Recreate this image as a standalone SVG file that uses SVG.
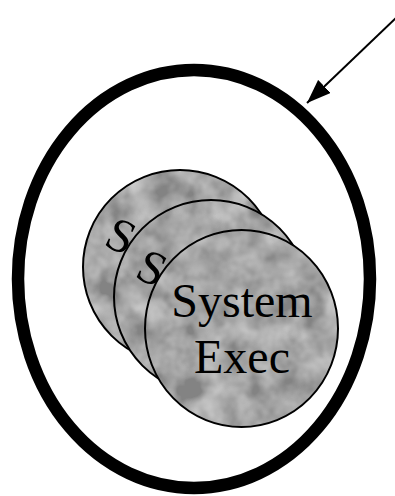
<svg xmlns="http://www.w3.org/2000/svg" width="395" height="496" viewBox="0 0 395 496">
  <style>
    .disk { stroke: #000; stroke-width: 2; fill: none; }
    .shade { fill: #838383; }
    .lbl { font-family: "Liberation Serif", "Times New Roman", "DejaVu Serif", serif; font-size: 48px; fill: #000; text-anchor: middle; }
  </style>
  <defs>
    <filter id="mottle" x="0" y="0" width="1" height="1">
      <feTurbulence type="fractalNoise" baseFrequency="0.04" numOctaves="3" seed="7" result="n"/>
      <feColorMatrix in="n" type="matrix" values="0 0 0 0 0.62  0 0 0 0 0.62  0 0 0 0 0.62  1 1 0 0 -0.6" result="light"/>
      <feComposite in="light" in2="SourceGraphic" operator="in" result="lm"/>
      <feMerge><feMergeNode in="SourceGraphic"/><feMergeNode in="lm"/></feMerge>
    </filter>
    <marker id="head" viewBox="0 0 24 18" refX="24" refY="9" markerWidth="24" markerHeight="18" markerUnits="userSpaceOnUse" orient="auto">
      <path d="M0,0 L24,9 L0,18 z" fill="#000"/>
    </marker>
  </defs>
  <rect width="395" height="496" fill="#fff"/>
  <g id="boundary">
    <ellipse cx="194" cy="279" rx="176" ry="209" fill="none" stroke="#000" stroke-width="12.5"/>
  </g>
  <g id="disk1">
    <circle class="shade" cx="180" cy="267" r="97" filter="url(#mottle)"/>
    <circle class="disk" cx="180" cy="267" r="97"/>
    <text class="lbl" transform="translate(121,236) rotate(25)" x="0" y="16">S</text>
  </g>
  <g id="disk2">
    <circle class="shade" cx="211" cy="297" r="97" filter="url(#mottle)"/>
    <circle class="disk" cx="211" cy="297" r="97"/>
    <text class="lbl" transform="translate(152,268) rotate(25)" x="0" y="16">S</text>
  </g>
  <g id="disk3">
    <ellipse class="shade" cx="241.5" cy="328.5" rx="96.5" ry="98.5" filter="url(#mottle)"/>
    <ellipse class="disk" cx="241.5" cy="328.5" rx="96.5" ry="98.5"/>
    <text class="lbl" x="242" y="317">System</text>
    <text class="lbl" x="242" y="373">Exec</text>
  </g>
  <g id="connectors">
    <line x1="400" y1="14" x2="307" y2="103" stroke="#000" stroke-width="2" marker-end="url(#head)"/>
  </g>
</svg>
